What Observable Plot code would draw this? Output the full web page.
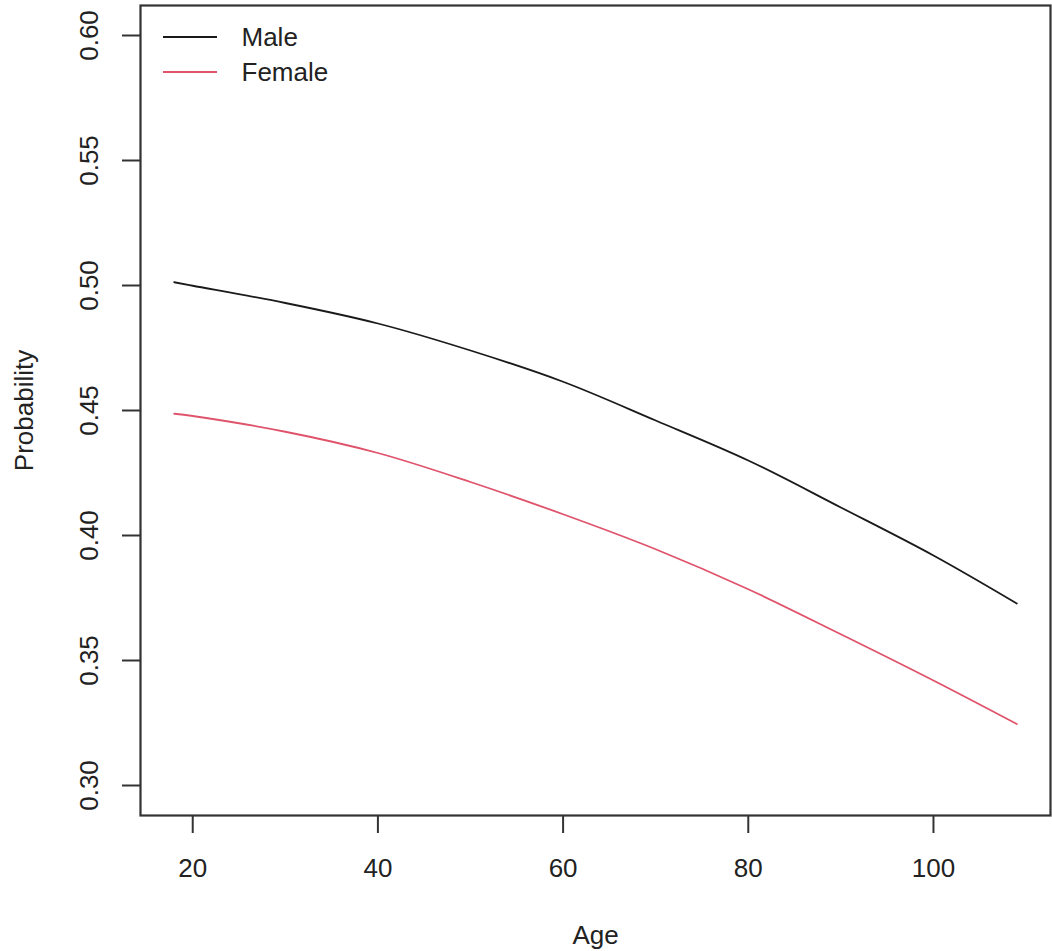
<!DOCTYPE html>
<html>
<head>
<meta charset="utf-8">
<script src="https://cdn.jsdelivr.net/npm/d3@7"></script>
<script src="https://cdn.jsdelivr.net/npm/@observablehq/plot@0.6"></script>
<style>
  html, body { margin: 0; padding: 0; background: #fff; }
</style>
</head>
<body>
<div id="chart"></div>
<script>
const ages = [18, 20, 30, 40, 50, 60, 70, 80, 90, 100, 109];
const maleProb = [0.5013, 0.4999, 0.4930, 0.4848, 0.4740, 0.4615, 0.4460, 0.4300, 0.4112, 0.3920, 0.3728];
const femaleProb = [0.4487, 0.4478, 0.4415, 0.4330, 0.4214, 0.4085, 0.3945, 0.3785, 0.3605, 0.3420, 0.3246];
const xTicks = [20, 40, 60, 80, 100];
const yTicks = [0.30, 0.35, 0.40, 0.45, 0.50, 0.55, 0.60];
const seriesNames = ["Male", "Female"];
const seriesColors = ["#1a1a1a", "#DF536B"];

const rows = [];
ages.forEach((a, i) => {
  rows.push({age: a, p: maleProb[i], sex: "Male"});
  rows.push({age: a, p: femaleProb[i], sex: "Female"});
});

const legendMarks = seriesNames.map((name, i) =>
  Plot.text([name], {frameAnchor: "top-left", dx: 101, dy: 32 + i * 35, fontSize: 26, fill: "#222", textAnchor: "start", lineAnchor: "middle"})
);

const chart = Plot.plot({
  width: 1052,
  height: 951,
  marginLeft: 140,
  marginRight: 2,
  marginTop: 5,
  marginBottom: 136,
  style: {fontFamily: "'Liberation Sans', Arial, sans-serif", fontSize: "26px", background: "#fff", color: "#222"},
  x: {domain: [14.36, 112.64], axis: null},
  y: {domain: [0.288, 0.612], axis: null},
  color: {domain: seriesNames, range: seriesColors},
  marks: [
    Plot.axisX({ticks: xTicks, tickSize: 18, tickFormat: () => "", label: null, stroke: "#333", strokeWidth: 2}),
    Plot.axisY({ticks: yTicks, tickSize: 18, tickFormat: () => "", label: null, stroke: "#333", strokeWidth: 2}),
    Plot.text(xTicks, {x: d => d, frameAnchor: "bottom", dy: 53, text: d => String(d), fontSize: 26, fill: "#222", lineAnchor: "middle"}),
    Plot.text(yTicks, {y: d => d, frameAnchor: "left", dx: -51, text: d => d.toFixed(2), rotate: -90, fontSize: 26, fill: "#222", textAnchor: "middle", lineAnchor: "middle"}),
    Plot.text(["Age"], {frameAnchor: "bottom", dy: 120, fontSize: 26, fill: "#222", lineAnchor: "middle"}),
    Plot.text(["Probability"], {frameAnchor: "left", dx: -116, rotate: -90, fontSize: 26, fill: "#222", textAnchor: "middle", lineAnchor: "middle"}),
    Plot.line(rows, {x: "age", y: "p", z: "sex", stroke: "sex", strokeWidth: 1.8, curve: "catmull-rom"}),
    Plot.frame({stroke: "#333", strokeWidth: 2.2}),
    ...legendMarks
  ]
});

const svg = d3.select(chart);
seriesNames.forEach((name, i) => {
  svg.append("line")
    .attr("x1", 163).attr("x2", 217)
    .attr("y1", 37 + i * 35).attr("y2", 37 + i * 35)
    .attr("stroke", seriesColors[i])
    .attr("stroke-width", 1.8);
});

document.getElementById("chart").appendChild(chart);
</script>
</body>
</html>
